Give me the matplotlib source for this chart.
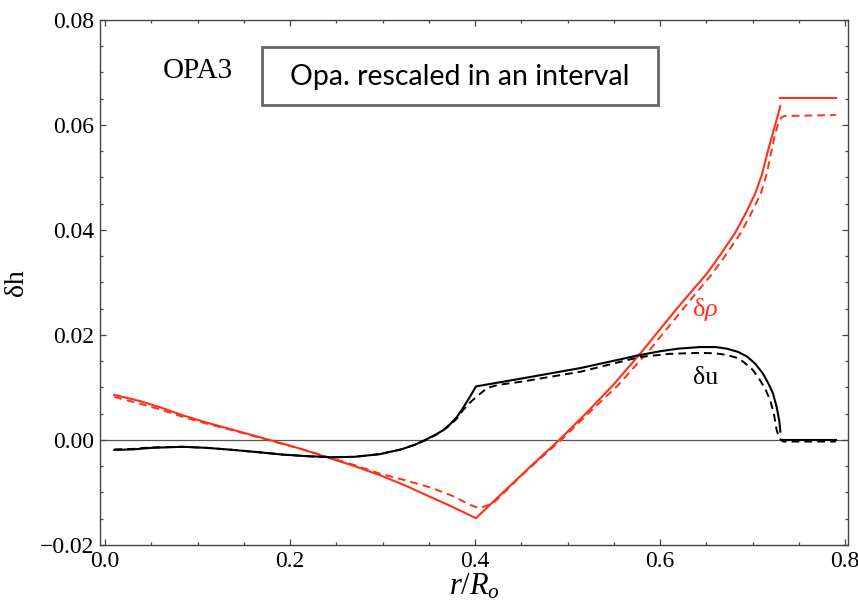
import numpy as np
import matplotlib
matplotlib.use('Agg')
import matplotlib.pyplot as plt
from matplotlib.ticker import MultipleLocator, FuncFormatter
from matplotlib.patches import Rectangle

plt.rcParams['font.family'] = ['Liberation Serif', 'DejaVu Serif']
plt.rcParams['mathtext.fontset'] = 'custom'
plt.rcParams['mathtext.rm'] = 'Liberation Serif'
plt.rcParams['mathtext.it'] = 'Liberation Serif:italic'

RED = '#ff3019'

# delta rho, solid
rho_x = [0.010, 0.038, 0.060, 0.084, 0.110, 0.139, 0.178, 0.210, 0.240, 0.270,
         0.297, 0.325, 0.351, 0.375, 0.401, 0.420, 0.450, 0.470, 0.491, 0.520,
         0.550, 0.582, 0.618, 0.651, 0.666, 0.681, 0.692, 0.703, 0.710, 0.716,
         0.722, 0.726, 0.730]
rho_y = [0.0086, 0.0074, 0.0062, 0.0047, 0.0033, 0.0019, 0.0000, -0.0016, -0.0033, -0.0050,
         -0.0067, -0.0087, -0.0108, -0.0127, -0.0149, -0.0117, -0.0067, -0.0034, 0.0000, 0.0051,
         0.0106, 0.0172, 0.0250, 0.0318, 0.0355, 0.0394, 0.0430, 0.0470, 0.0505, 0.0547,
         0.0585, 0.0610, 0.0636]
rho_top_x = [0.730, 0.790]
rho_top_y = [0.0651, 0.0651]

# delta rho, dashed
rhod_x = [0.010, 0.038, 0.060, 0.084, 0.110, 0.139, 0.178, 0.210, 0.240, 0.270,
          0.297, 0.325, 0.351, 0.375, 0.395, 0.405, 0.420, 0.450, 0.470, 0.493,
          0.522, 0.555, 0.589, 0.625, 0.657, 0.672, 0.687, 0.698, 0.709, 0.715,
          0.720, 0.724, 0.728, 0.731, 0.734, 0.790]
rhod_y = [0.0082, 0.0069, 0.0058, 0.0044, 0.0031, 0.0018, -0.0001, -0.0016, -0.0032, -0.0048,
          -0.0064, -0.0077, -0.0090, -0.0106, -0.0124, -0.0130, -0.0120, -0.0068, -0.0036, 0.0000,
          0.0050, 0.0105, 0.0172, 0.0250, 0.0318, 0.0355, 0.0394, 0.0430, 0.0470, 0.0505,
          0.0547, 0.0580, 0.0605, 0.0614, 0.0617, 0.0619]

# delta u, solid
u_x = [0.010, 0.030, 0.050, 0.084, 0.110, 0.139, 0.170, 0.193, 0.220, 0.247,
       0.270, 0.297, 0.320, 0.335, 0.346, 0.355, 0.365, 0.373, 0.380, 0.387,
       0.394, 0.401, 0.450, 0.514, 0.576, 0.600, 0.620, 0.643, 0.660, 0.672,
       0.684, 0.694, 0.703, 0.711, 0.717, 0.722, 0.726, 0.729, 0.730]
u_y = [-0.0019, -0.0018, -0.0015, -0.0013, -0.0015, -0.0019, -0.0024, -0.0028, -0.0031, -0.0033,
       -0.0032, -0.0027, -0.0018, -0.0009, 0.0000, 0.0008, 0.0018, 0.0030, 0.0043, 0.0061,
       0.0081, 0.0102, 0.0117, 0.0137, 0.0161, 0.0169, 0.0174, 0.0177, 0.0177, 0.0174,
       0.0168, 0.0159, 0.0145, 0.0127, 0.0108, 0.0089, 0.0063, 0.0035, 0.0016]
u_top_x = [0.732, 0.790]
u_top_y = [0.0000, 0.0000]

# delta u, dashed
ud_x = [0.010, 0.030, 0.050, 0.084, 0.110, 0.139, 0.170, 0.193, 0.220, 0.247,
        0.270, 0.297, 0.320, 0.335, 0.347, 0.360, 0.370, 0.380, 0.387, 0.395,
        0.402, 0.413, 0.425, 0.450, 0.514, 0.578, 0.610, 0.643, 0.660, 0.672,
        0.682, 0.690, 0.700, 0.708, 0.714, 0.719, 0.723, 0.726, 0.729, 0.733, 0.790]
ud_y = [-0.0018, -0.0017, -0.0014, -0.0013, -0.0015, -0.0019, -0.0024, -0.0028, -0.0031, -0.0033,
        -0.0032, -0.0027, -0.0018, -0.0009, 0.0000, 0.0012, 0.0024, 0.0040, 0.0057, 0.0072,
        0.0083, 0.0099, 0.0105, 0.0111, 0.0130, 0.0158, 0.0164, 0.0166, 0.0165, 0.0162,
        0.0157, 0.0149, 0.0134, 0.0114, 0.0096, 0.0076, 0.0050, 0.0019, 0.0003, -0.0003, -0.0003]

fig = plt.figure(figsize=(8.58, 6.06), dpi=100)
ax = fig.add_axes([0.1166, 0.1007, 0.8718, 0.8663])

ax.axhline(0, color='#555555', lw=0.9, zorder=1)

dash = (0, (4, 2.6))
ax.plot(rho_x, rho_y, color=RED, lw=1.5)
ax.plot(rho_top_x, rho_top_y, color=RED, lw=1.5)
ax.plot(rhod_x, rhod_y, color=RED, lw=1.4, ls=dash)
ax.plot(u_x, u_y, color='black', lw=1.5)
ax.plot(u_top_x, u_top_y, color='black', lw=1.5)
ax.plot(ud_x, ud_y, color='black', lw=1.4, ls=dash)

ax.set_xlim(-0.0054, 0.8032)
ax.set_ylim(-0.02, 0.08)

ax.xaxis.set_major_locator(MultipleLocator(0.2))
ax.xaxis.set_minor_locator(MultipleLocator(0.05))
ax.yaxis.set_major_locator(MultipleLocator(0.02))
ax.yaxis.set_minor_locator(MultipleLocator(0.005))
ax.xaxis.set_major_formatter(FuncFormatter(lambda v, p: f'{v:.1f}'.replace('-', '\u2212')))
ax.yaxis.set_major_formatter(FuncFormatter(
    lambda v, p: ('0.00' if abs(v) < 1e-9 else f'{v:.2f}'.replace('-', '\u2212'))))

ax.tick_params(which='both', direction='in', top=True, right=True,
               color='#444444', width=0.9, labelsize=17)
ax.tick_params(which='major', length=4.5, pad=4)
ax.tick_params(which='minor', length=2.5)
ax.tick_params(axis='x', labeltop=False)
ax.tick_params(axis='y', labelright=False)
for s in ax.spines.values():
    s.set_color('#444444')
    s.set_linewidth(1.0)

ax.set_xlabel(r'$r/R_o$', fontsize=22, labelpad=0)
ax.set_ylabel('\u03b4h', fontsize=20, labelpad=8)

ax.text(0.1, 0.0703, 'OPA3', fontsize=21, ha='center', va='center')
ax.text(0.649, 0.0248, r'$\mathrm{\delta}\rho$', color=RED, fontsize=19, ha='center', va='center')
ax.text(0.649, 0.0118, '\u03b4u', color='black', fontsize=18.5, ha='center', va='center')

ax.add_patch(Rectangle((0.2166, 0.838), 0.5294, 0.1106, transform=ax.transAxes,
                       fill=False, edgecolor='#666666', lw=2.0, zorder=5))
ax.text(0.481, 0.891, 'Opa. rescaled in an interval', transform=ax.transAxes,
        family='Lato', fontsize=20.5, ha='center', va='center')

fig.savefig('out.png', dpi=100)
